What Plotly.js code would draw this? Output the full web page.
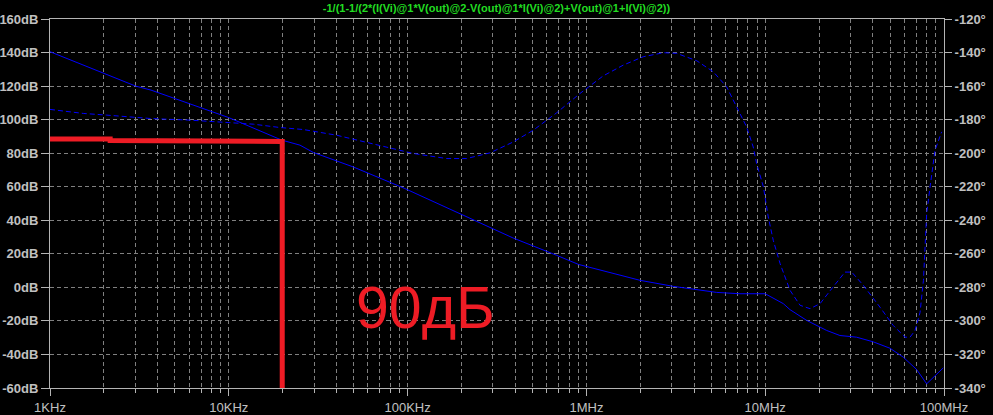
<!DOCTYPE html>
<html><head><meta charset="utf-8">
<script src="https://cdn.plot.ly/plotly-3.0.1.min.js"></script>
<style>html,body{margin:0;padding:0;background:#000;}#chart{width:993px;height:415px;}</style>
</head><body><div id="chart"></div>
<script>
// Magnitude (solid, left axis, dB)
const magFreq = [1000, 3013, 3673, 5117, 10000, 19770, 25000, 29720, 49660, 96610, 200900, 389900, 682300, 901600, 1995000, 3062000, 5346000, 7228000, 10000000, 12620000, 13770000, 17060000, 22080000, 26180000, 32430000, 40270000, 49890000, 59160000, 70310000, 80000000, 99080000];
const magDb   = [140.5, 120, 117.6, 112.1, 101.2, 87.8, 84.8, 80.4, 71.8, 58.9, 43.4, 29.4, 19.1, 13.7, 4.2, 0.6, -3.0, -3.8, -3.8, -9.7, -13.3, -19.7, -25.7, -28.7, -29.7, -32.5, -36.3, -41.6, -49.0, -57.5, -48.0];
// Phase (dashed, right axis, degrees)
const phaseFreq = [1000, 1535, 2075, 3622, 6067, 9727, 13710, 19320, 26120, 40090, 61660, 107700, 165600, 213800, 289100, 389900, 504700, 682300, 920500, 1242000, 1607000, 2080000, 2692000, 3199000, 4140000, 5129000, 6081000, 6918000, 7870000, 8570000, 8954000, 9772000, 10400000, 11090000, 12110000, 13770000, 15670000, 17820000, 20280000, 23550000, 27930000, 30480000, 35400000, 43850000, 52000000, 60530000, 64570000, 68870000, 73450000, 76740000, 80000000, 83560000, 89130000, 97050000];
const phaseDeg  = [-173.9, -176.3, -177.3, -179.3, -180.3, -181.7, -182.7, -184.7, -185.9, -189.3, -194.2, -200.2, -203.2, -203.2, -199.8, -193.3, -186.3, -175.9, -164.4, -153.9, -147.5, -142.5, -140.1, -140.5, -144.9, -151.5, -160.4, -172.4, -184.3, -196.3, -206.2, -220.1, -238.0, -251.9, -265.8, -281.8, -290.7, -292.7, -289.7, -280.8, -270.9, -270.9, -278.8, -291.8, -302.7, -309.7, -309.7, -305.7, -295.0, -275.8, -236.0, -220.1, -198.2, -187.3];
// Red hand-drawn marker
const markerFreq = [1000, 2170, 2170, 9530, 9530, 19900, 19900];
const markerDb   = [88.4, 88.4, 87.6, 87.6, 87.0, 87.0, -60];
const noteText = '90дБ';
// Axes
const freqTickVals = [1e3, 1e4, 1e5, 1e6, 1e7, 1e8];
const freqTickText = ['1KHz', '10KHz', '100KHz', '1MHz', '10MHz', '100MHz'];
const dbTicks = [-60, -40, -20, 0, 20, 40, 60, 80, 100, 120, 140, 160];
const degTicks = [-340, -320, -300, -280, -260, -240, -220, -200, -180, -160, -140, -120];
const titleText = '-1/(1-1/(2*(I(Vi)@1*V(out)@2-V(out)@1*I(Vi)@2)+V(out)@1+I(Vi)@2))';

const minorVals = [];
for (let d = 0; d < freqTickVals.length - 1; d++) {
  for (let m = 2; m <= 9; m++) minorVals.push(freqTickVals[d] * m);
}

const gridColor = '#808080';
const axisColor = '#b4b4b4';
const labelFont = {family: 'Liberation Sans, Arial, sans-serif', size: 13, color: '#c0c0c0'};

const traces = [
  {x: magFreq, y: magDb, type: 'scatter', mode: 'lines', yaxis: 'y',
   line: {color: '#0000ff', width: 1}, hoverinfo: 'skip'},
  {x: phaseFreq, y: phaseDeg, type: 'scatter', mode: 'lines', yaxis: 'y2',
   line: {color: '#0000ff', width: 1, dash: '5px,3px'}, hoverinfo: 'skip'},
  {x: markerFreq, y: markerDb, type: 'scatter', mode: 'lines', yaxis: 'y',
   line: {color: '#ee1c25', width: 5}, hoverinfo: 'skip'}
];

const layout = {
  width: 993, height: 415,
  paper_bgcolor: '#000', plot_bgcolor: '#000',
  showlegend: false,
  margin: {l: 50, r: 49, t: 19, b: 27},
  title: {text: titleText, x: 0.5, xanchor: 'center', y: 0.981, yanchor: 'middle',
          font: {family: 'Liberation Sans, Arial, sans-serif', size: 11, color: '#22dd22', weight: 'bold'}},
  xaxis: {type: 'log', range: [3, 8], tickvals: freqTickVals, ticktext: freqTickText,
          showline: true, linecolor: axisColor, linewidth: 1, mirror: true,
          ticks: 'outside', ticklen: 7, tickcolor: axisColor,
          showgrid: true, gridcolor: gridColor, griddash: '4px,3px', gridwidth: 1,
          minor: {tickvals: minorVals, ticks: 'outside', ticklen: 4, tickcolor: axisColor,
                  showgrid: true, gridcolor: gridColor, griddash: '4px,3px', gridwidth: 1},
          tickfont: {family: 'Liberation Sans, Arial, sans-serif', size: 13, color: '#c0c0c0'},
          zeroline: false, fixedrange: true},
  yaxis: {range: [-60, 160], tickvals: dbTicks, ticktext: dbTicks.map(v => String(v) + 'dB'),
          showline: true, linecolor: axisColor, linewidth: 1,
          ticks: 'outside', ticklen: 8, tickcolor: axisColor,
          showgrid: true, gridcolor: gridColor, griddash: '4px,3px', gridwidth: 1,
          tickfont: Object.assign({}, labelFont, {weight: 'bold'}), zeroline: false, fixedrange: true},
  yaxis2: {range: [-340, -120], tickvals: degTicks, ticktext: degTicks.map(v => String(v) + '°'),
           overlaying: 'y', side: 'right',
           showline: true, linecolor: axisColor, linewidth: 1,
           ticks: 'outside', ticklen: 7, tickcolor: axisColor,
           showgrid: false, tickfont: Object.assign({}, labelFont, {weight: 'bold'}),
           zeroline: false, fixedrange: true},
  annotations: [{text: noteText, xref: 'paper', yref: 'paper', x: 0.42, y: 0.217,
                 xanchor: 'center', yanchor: 'middle', showarrow: false,
                 font: {family: 'Liberation Sans, Arial, sans-serif', size: 59, color: '#ee1c25'}}]
};

Plotly.newPlot('chart', traces, layout, {displayModeBar: false, staticPlot: true});
</script>
</body></html>
